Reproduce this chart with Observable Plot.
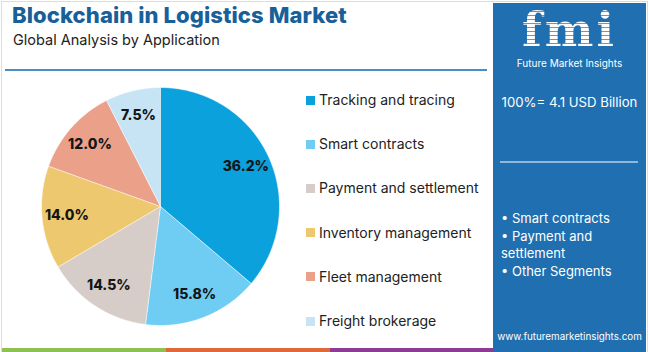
<!DOCTYPE html>
<html><head><meta charset="utf-8">
<script src="https://cdn.jsdelivr.net/npm/d3@7"></script>
<script src="https://cdn.jsdelivr.net/npm/@observablehq/plot@0.6"></script>
<style>
html,body{margin:0;padding:0;background:#fff;}
#page{position:relative;width:650px;height:352px;overflow:hidden;font-family:Inter,"Noto Sans",sans-serif;}
</style></head>
<body><div id="page"></div>
<script>
const categories = ["Tracking and tracing","Smart contracts","Payment and settlement","Inventory management","Fleet management","Freight brokerage"];
const shares = [36.2, 15.8, 14.5, 14.0, 12.0, 7.5];
const colors = ["#0ba1dc","#6fcdf3","#d6ccc8","#eec86e","#eba08a","#c7e4f4"];
const title = "Blockchain in Logistics Market";
const subtitle = "Global Analysis by Application";
const totalLabel = "100%= 4.1 USD Billion";
const panelBullets = ["Smart contracts","Payment and settlement","Other Segments"];
const website = "www.futuremarketinsights.com";

const page = document.getElementById("page");
function el(tag, css, text, parent){const e=document.createElement(tag);e.style.cssText=css;if(text!=null)e.textContent=text;(parent||page).appendChild(e);return e;}

// frame
el("div","position:absolute;left:1px;top:1px;width:647px;height:351px;border-left:1px solid #ddd;border-top:1px solid #ddd;border-right:1px solid #ddd;box-sizing:border-box;");
// titles
el("div","position:absolute;left:12px;top:2px;font-size:22px;font-weight:800;color:#17609a;letter-spacing:0.1px;white-space:nowrap;",title);
el("div","position:absolute;left:13px;top:31px;font-size:14.5px;color:#222;white-space:nowrap;",subtitle);
el("div","position:absolute;left:5px;top:69px;width:482px;height:2px;background:#4b8ec6;");
// bottom strip
el("div","position:absolute;left:2px;top:348px;width:164px;height:4px;background:#8fc152;");
el("div","position:absolute;left:166px;top:348px;width:164px;height:4px;background:#e0693c;");
el("div","position:absolute;left:330px;top:348px;width:163px;height:4px;background:#8d3b94;");
// right panel
el("div","position:absolute;left:493px;top:3px;width:153px;height:349px;background:#1f6fb1;");
el("div","position:absolute;left:493px;top:4px;width:153px;height:53px;line-height:53px;text-align:center;font-family:'DejaVu Serif',serif;font-weight:bold;font-size:46px;letter-spacing:3px;color:transparent;background:repeating-linear-gradient(180deg,#fff 0px,#fff 3px,rgba(255,255,255,0.3) 3px,rgba(255,255,255,0.3) 4px);-webkit-background-clip:text;background-clip:text;white-space:nowrap;","fmi");
el("div","position:absolute;left:493px;top:57px;width:153px;text-align:center;font-size:10px;line-height:12px;color:#fff;white-space:nowrap;","Future Market Insights");
el("div","position:absolute;left:493px;top:93px;width:153px;text-align:center;font-size:13.2px;line-height:18px;color:#fff;white-space:nowrap;",totalLabel);
el("div","position:absolute;left:500px;top:161px;width:138px;height:2px;background:#8fb8dc;");
const pb = el("div","position:absolute;left:501px;top:210px;width:140px;font-size:13px;line-height:17.7px;color:#fff;");
pb.innerHTML = panelBullets.map(b=>"• "+b).join("<br>").replace("Payment and settlement","Payment and<br>settlement");
el("div","position:absolute;left:493px;top:330px;width:153px;text-align:center;font-size:9.8px;line-height:14px;color:#fff;white-space:nowrap;",website);

// legend
categories.forEach((c,i)=>{
  const y = 100 + i*44.2;
  el("div",`position:absolute;left:306px;top:${y-4.5}px;width:9px;height:9px;background:${colors[i]};`);
  el("div",`position:absolute;left:319px;top:${y-10}px;font-size:14px;line-height:20px;color:#222;white-space:nowrap;`,c);
});

// pie via Plot
const data = categories.map((c,i)=>({category:c, share:shares[i]}));
const arcs = d3.pie().sort(null).value(d=>d.share)(data);
const poly = [];
const labels = [];
arcs.forEach(a=>{
  const n = Math.max(4, Math.ceil((a.endAngle-a.startAngle)/0.01));
  poly.push({category:a.data.category, x:0, y:0});
  for(let k=0;k<=n;k++){
    const t = a.startAngle + (a.endAngle-a.startAngle)*k/n;
    poly.push({category:a.data.category, x:Math.sin(t), y:Math.cos(t)});
  }
  const m = (a.startAngle+a.endAngle)/2;
  labels.push({category:a.data.category, x:0.79*Math.sin(m), y:0.79*Math.cos(m), text:a.data.share.toFixed(1)+"%"});
});
const size = 250, R = 119, ext = (size/2)/R;
const chart = Plot.plot({
  width:size, height:size, margin:0,
  x:{domain:[-ext,ext], axis:null},
  y:{domain:[-ext,ext], axis:null},
  color:{domain:categories, range:colors},
  style:{background:"transparent", fontFamily:"Inter, 'Noto Sans', sans-serif"},
  marks:[
    Plot.line(poly,{x:"x",y:"y",z:"category",fill:"category",stroke:"white",strokeWidth:0.6,curve:"linear"}),
    Plot.text(labels,{x:"x",y:"y",text:"text",fill:"#151515",fontSize:14,fontWeight:800})
  ]
});
chart.style.position="absolute";
chart.style.left=(160-size/2)+"px";
chart.style.top=(206-size/2)+"px";
page.appendChild(chart);
</script></body></html>
